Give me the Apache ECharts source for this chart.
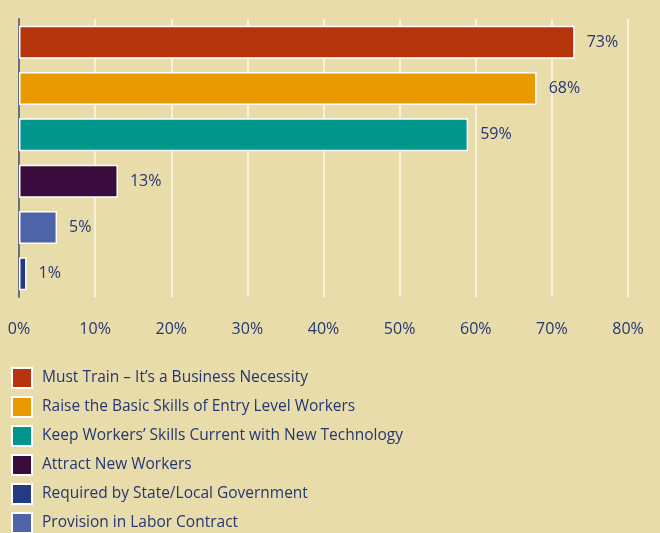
<!DOCTYPE html>
<html>
<head>
<meta charset="utf-8">
<script src="https://cdn.jsdelivr.net/npm/echarts@6/dist/echarts.min.js"></script>
<style>
  html, body { margin: 0; padding: 0; background: #e9dcab; }
  #chart { width: 660px; height: 533px; }
</style>
</head>
<body>
<div id="chart"></div>
<script>
// bars top to bottom
const categories = [
    'Must Train \u2013 It\u2019s a Business Necessity',
    'Raise the Basic Skills of Entry Level Workers',
    'Keep Workers\u2019 Skills Current with New Technology',
    'Attract New Workers',
    'Provision in Labor Contract',
    'Required by State/Local Government'
];
const values = [73, 68, 59, 13, 5, 1];
const colors = ['#b5340b', '#e89a00', '#00968b', '#3a0b3d', '#4e64a8', '#233b80'];
// legend order differs from bar order
const legendOrder = [
    'Must Train \u2013 It\u2019s a Business Necessity',
    'Raise the Basic Skills of Entry Level Workers',
    'Keep Workers\u2019 Skills Current with New Technology',
    'Attract New Workers',
    'Required by State/Local Government',
    'Provision in Labor Contract'
];
const xTicks = [0, 10, 20, 30, 40, 50, 60, 70, 80];

const textColor = '#253672';
const fontFamily = '"Open Sans", "Noto Sans", sans-serif';

const chart = echarts.init(document.getElementById('chart'));

// one series per category so the legend gets its own colour
const series = categories.map((name, i) => ({
    name: name,
    type: 'bar',
    stack: 'all',
    barWidth: 33,
    itemStyle: {
        color: colors[i],
        borderColor: '#ffffff',
        borderWidth: 1.5
    },
    label: {
        show: true,
        position: 'right',
        distance: 12,
        color: textColor,
        fontSize: 16,
        fontFamily: fontFamily,
        formatter: '{c}%'
    },
    data: categories.map((c, j) => (j === i ? values[i] : '-'))
}));

chart.setOption({
    backgroundColor: '#e9dcab',
    animation: false,
    grid: {
        left: 19,
        right: 32,
        top: 19,
        bottom: 236
    },
    legend: {
        data: legendOrder.map(n => ({ name: n, icon: 'rect' })),
        orient: 'vertical',
        left: 11,
        top: 367,
        height: 180,
        padding: 0,
        itemWidth: 20,
        itemHeight: 20,
        itemGap: 7,
        textStyle: {
            color: textColor,
            fontSize: 15.5,
            fontFamily: fontFamily,
            padding: [0, 0, 0, 5]
        }
    },
    xAxis: {
        type: 'value',
        min: 0,
        max: 80,
        interval: 10,
        axisLine: { show: false },
        axisTick: { show: false },
        splitLine: {
            show: true,
            lineStyle: { color: '#f8f1dc', width: 2 }
        },
        axisLabel: {
            color: textColor,
            fontSize: 16,
            fontFamily: fontFamily,
            margin: 24,
            formatter: v => (xTicks.includes(v) ? v + '%' : '')
        }
    },
    yAxis: {
        type: 'category',
        inverse: true,
        data: categories,
        axisLine: {
            show: true,
            lineStyle: { color: '#6a6f80', width: 2 }
        },
        axisTick: { show: false },
        axisLabel: { show: false }
    },
    series: series
});
</script>
</body>
</html>
